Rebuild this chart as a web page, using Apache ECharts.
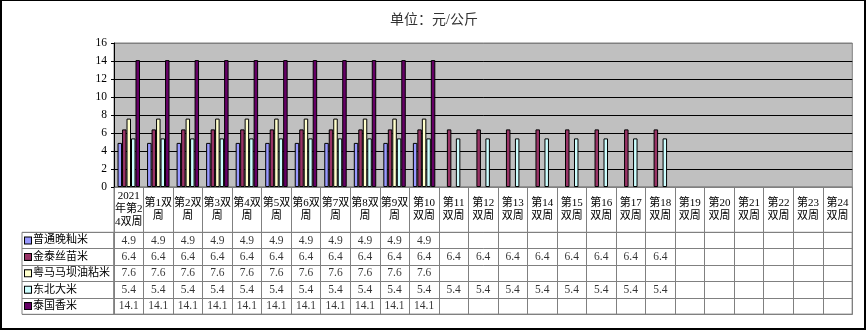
<!DOCTYPE html>
<html>
<head>
<meta charset="utf-8">
<script src="https://cdn.jsdelivr.net/npm/echarts@6/dist/echarts.min.js"></script>
<style>
  html, body { margin: 0; padding: 0; background: #fff; }
  #wrap { position: relative; width: 868px; height: 330px; }
  #chart { position: absolute; left: 0; top: 0; width: 868px; height: 330px; }
  #frame { position: absolute; left: 0; top: 0; width: 862px; height: 327px;
           border-style: solid; border-color: #000; border-width: 1px 2px 2px 2px;
           pointer-events: none; }
</style>
</head>
<body>
<div id="wrap">
  <div id="chart"></div>
  <div id="frame"></div>
</div>
<script>
// Bi-weekly periods (column headers of the data table)
const categories = [
  '2021\n年第2\n4双周', '第1双\n周', '第2双\n周', '第3双\n周', '第4双\n周', '第5双\n周',
  '第6双\n周', '第7双\n周', '第8双\n周', '第9双\n周', '第10\n双周', '第11\n双周',
  '第12\n双周', '第13\n双周', '第14\n双周', '第15\n双周', '第16\n双周', '第17\n双周',
  '第18\n双周', '第19\n双周', '第20\n双周', '第21\n双周', '第22\n双周', '第23\n双周',
  '第24\n双周'
];

const seriesNames = ['普通晚籼米', '金泰丝苗米', '粤马马坝油粘米', '东北大米', '泰国香米'];

// Prices, 元/公斤
const putongWanxian = [4.9, 4.9, 4.9, 4.9, 4.9, 4.9, 4.9, 4.9, 4.9, 4.9, 4.9, null, null, null, null, null, null, null, null, null, null, null, null, null, null];
const jintaiSimiao  = [6.4, 6.4, 6.4, 6.4, 6.4, 6.4, 6.4, 6.4, 6.4, 6.4, 6.4, 6.4, 6.4, 6.4, 6.4, 6.4, 6.4, 6.4, 6.4, null, null, null, null, null, null];
const yuemaMaba     = [7.6, 7.6, 7.6, 7.6, 7.6, 7.6, 7.6, 7.6, 7.6, 7.6, 7.6, null, null, null, null, null, null, null, null, null, null, null, null, null, null];
const dongbei       = [5.4, 5.4, 5.4, 5.4, 5.4, 5.4, 5.4, 5.4, 5.4, 5.4, 5.4, 5.4, 5.4, 5.4, 5.4, 5.4, 5.4, 5.4, 5.4, null, null, null, null, null, null];
const taiguoXiang   = [14.1, 14.1, 14.1, 14.1, 14.1, 14.1, 14.1, 14.1, 14.1, 14.1, 14.1, null, null, null, null, null, null, null, null, null, null, null, null, null, null];

const seriesValues = [putongWanxian, jintaiSimiao, yuemaMaba, dongbei, taiguoXiang];
const seriesColors = ['#9999FF', '#993366', '#FFFFCC', '#CCFFFF', '#660066'];

const yTicks = { min: 0, max: 16, interval: 2 };

const FONT = '"Liberation Serif", "Noto Sans CJK SC", serif';
const GRID_LINE = '#808080';

// layout of the plot and the data table beneath it
const L = 114, R = 15.7;
const plotTop = 43, plotBottom = 187;
const headBottom = 232.3, tableBottom = 314.3;

const barSeries = seriesNames.map((name, i) => ({
  type: 'bar',
  name,
  xAxisIndex: 0, yAxisIndex: 0,
  data: seriesValues[i],
  barGap: '0%',
  barCategoryGap: '24%',
  itemStyle: { color: seriesColors[i], borderColor: '#000', borderWidth: 1 },
  emphasis: { disabled: true },
  animation: false
}));

// cell texts of the data table
const cellSeries = seriesNames.map((name, i) => ({
  type: 'scatter',
  xAxisIndex: 2, yAxisIndex: 2,
  symbolSize: 0,
  data: seriesValues[i]
    .map((v, c) => v == null ? null : [c, i, v])
    .filter(d => d !== null),
  label: {
    show: true, position: 'inside',
    formatter: p => String(p.value[2]),
    fontFamily: FONT, fontSize: 11.5, color: '#000'
  },
  silent: true, animation: false
}));

const legendRich = { t: { fontFamily: FONT, fontSize: 11, color: '#000', padding: [0, 0, 0, 2] } };
seriesColors.forEach((c, i) => {
  legendRich['s' + i] = { width: 6, height: 6, backgroundColor: c, borderColor: '#000', borderWidth: 1 };
});

const option = {
  backgroundColor: '#fff',
  animation: false,
  title: {
    text: '单位：元/公斤', left: 'center', top: 8,
    textStyle: { fontFamily: FONT, fontSize: 14, fontWeight: 'normal', color: '#333' }
  },
  grid: [
    { left: L, right: R, top: plotTop, height: plotBottom - plotTop, show: true,
      backgroundColor: '#C0C0C0', borderColor: GRID_LINE, borderWidth: 1 },
    { left: L, right: R, top: plotBottom, height: tableBottom - plotBottom, show: true,
      borderColor: GRID_LINE, borderWidth: 1 },
    { left: L, right: R, top: headBottom, height: tableBottom - headBottom, show: true,
      borderColor: GRID_LINE, borderWidth: 1 },
    { left: 22, width: L - 22, top: headBottom, height: tableBottom - headBottom, show: true,
      borderColor: GRID_LINE, borderWidth: 1 }
  ],
  xAxis: [
    { gridIndex: 0, type: 'category', data: categories,
      axisLine: { show: false }, axisTick: { show: false },
      axisLabel: { interval: 0, margin: 22.5, verticalAlign: 'middle', lineHeight: 13,
                   fontFamily: FONT, fontSize: 11, color: '#000' } },
    { gridIndex: 1, type: 'category', data: categories,
      axisLine: { show: false }, axisTick: { show: false }, axisLabel: { show: false },
      splitLine: { show: true, interval: 0, lineStyle: { color: GRID_LINE, width: 1 } } },
    { gridIndex: 2, type: 'category', data: categories,
      axisLine: { show: false }, axisTick: { show: false }, axisLabel: { show: false } },
    { gridIndex: 3, type: 'category', data: ['x'], show: false }
  ],
  yAxis: [
    { gridIndex: 0, type: 'value', min: yTicks.min, max: yTicks.max, interval: yTicks.interval,
      axisLine: { show: true, lineStyle: { color: '#000', width: 1 } },
      axisTick: { show: true, length: 3, lineStyle: { color: '#000' } },
      axisLabel: { margin: 7, fontFamily: FONT, fontSize: 11.5, color: '#000' },
      splitLine: { show: true, lineStyle: { width: 1,
        color: [GRID_LINE, '#000', '#000', '#000', '#000', '#000', '#000', '#000', GRID_LINE] } } },
    { gridIndex: 1, type: 'value', show: false, min: 0, max: 1 },
    { gridIndex: 2, type: 'category', data: seriesNames, inverse: true,
      axisLine: { show: false }, axisTick: { show: false }, axisLabel: { show: false },
      splitLine: { show: true, interval: 0, lineStyle: { color: GRID_LINE, width: 1 } } },
    { gridIndex: 3, type: 'category', data: seriesNames, inverse: true,
      axisLine: { show: false }, axisTick: { show: false },
      axisLabel: { inside: true, margin: 3, interval: 0,
                   formatter: (v, i) => `{s${i}|}{t|${v}}`, rich: legendRich },
      splitLine: { show: true, interval: 0, lineStyle: { color: GRID_LINE, width: 1 } } }
  ],
  series: barSeries.concat(cellSeries)
};

const chart = echarts.init(document.getElementById('chart'), null, { renderer: 'canvas' });
chart.setOption(option);
</script>
</body>
</html>
